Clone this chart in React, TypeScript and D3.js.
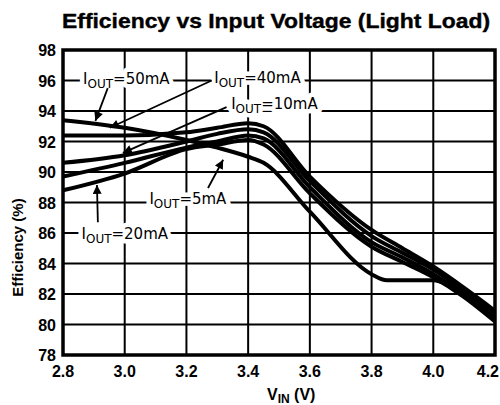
import React from 'react';
import * as d3 from 'd3';

// ---- data ----
const vinShared = [2.8, 3.0, 3.2, 3.3, 3.4, 3.45, 3.6, 3.8, 3.9, 4.0, 4.1, 4.2];
const eff40mA = [92.4, 92.4, 92.6, 92.9, 93.2, 93.0, 89.7, 86.2, 85.0, 83.8, 82.4, 80.9];
const eff10mA = [90.6, 91.1, 92.0, 92.5, 92.8, 92.6, 89.4, 85.8, 84.7, 83.6, 82.2, 80.7];
const eff5mA = [89.7, 90.6, 91.6, 92.0, 92.4, 92.2, 89.0, 85.4, 84.4, 83.3, 82.0, 80.5];
const eff20mA = [88.8, 89.9, 91.5, 91.8, 92.1, 91.8, 88.6, 85.1, 84.1, 83.1, 81.8, 80.2];
const vin50mA = [2.8, 3.0, 3.2, 3.3, 3.4, 3.45, 3.6, 3.8, 3.85, 4.0, 4.05, 4.2];
const eff50mA = [93.4, 92.9, 92.1, 91.6, 91.0, 90.6, 87.4, 83.3, 82.9, 82.9, 82.6, 80.3];

const xTicks = [2.8, 3.0, 3.2, 3.4, 3.6, 3.8, 4.0, 4.2];
const yTicks = [78, 80, 82, 84, 86, 88, 90, 92, 94, 96, 98];

const series = [
  { name: '50mA', x: vin50mA, y: eff50mA },
  { name: '40mA', x: vinShared, y: eff40mA },
  { name: '10mA', x: vinShared, y: eff10mA },
  { name: '5mA', x: vinShared, y: eff5mA },
  { name: '20mA', x: vinShared, y: eff20mA },
];

// annotation labels (data units: volts, %)
const labelNames = ['50mA', '40mA', '10mA', '5mA', '20mA'];
const labelV = [2.865, 3.29, 3.345, 3.08, 2.86];
const labelE = [96.1, 96.15, 94.45, 88.25, 85.95];
// arrows: from -> to
const arrowFromV = [2.945, 3.282, 3.33, 3.27, 2.913];
const arrowFromE = [95.5, 96.0, 94.25, 88.95, 86.7];
const arrowToV = [2.905, 2.952, 2.994, 3.319, 2.91];
const arrowToE = [93.35, 92.9, 91.25, 90.8, 89.15];

const W = 500;
const H = 405;
const left = 63, right = 495, top = 50, bottom = 355;

function Label({ px, py, name, halo }: { px: number; py: number; name: string; halo: boolean }) {
  const common = halo
    ? { stroke: '#fff', strokeWidth: 9, fill: '#fff', strokeLinejoin: 'round' as const }
    : { fill: '#000' };
  return (
    <text x={px} y={py} fontFamily="'DejaVu Sans', sans-serif" fontSize={15} {...common}>
      I<tspan fontSize={12} dy={4}>OUT</tspan><tspan dy={-4}>={name}</tspan>
    </text>
  );
}

export default function App() {
  const x = d3.scaleLinear().domain([2.8, 4.2]).range([left, right]);
  const y = d3.scaleLinear().domain([78, 98]).range([bottom, top]);
  const line = d3
    .line<[number, number]>()
    .x((d) => x(d[0]))
    .y((d) => y(d[1]))
    .curve(d3.curveMonotoneX);

  const tickFont = "'Liberation Sans', Arial, sans-serif";

  return (
    <svg width={W} height={H} style={{ position: 'absolute', left: 0, top: 0, background: '#fff' }}>
      <defs>
        <marker id="ah" viewBox="0 0 10 10" refX="10" refY="5" markerWidth="12" markerHeight="9"
          markerUnits="userSpaceOnUse" orient="auto">
          <path d="M0,0 L10,5 L0,10 Z" fill="#000" />
        </marker>
      </defs>
      <rect x={0} y={0} width={W} height={H} fill="#fff" />
      {/* title */}
      <text x={276} y={28} textAnchor="middle" fontFamily={tickFont} fontWeight="bold" fontSize={21}
        textLength={428} lengthAdjust="spacingAndGlyphs" stroke="#000" strokeWidth={0.4}>
        Efficiency vs Input Voltage (Light Load)
      </text>
      {/* grid */}
      {yTicks.slice(1, -1).map((t) => (
        <line key={'gy' + t} x1={left} x2={right} y1={y(t)} y2={y(t)} stroke="#000" strokeWidth={2} />
      ))}
      {xTicks.slice(1, -1).map((t) => (
        <line key={'gx' + t} y1={top} y2={bottom} x1={x(t)} x2={x(t)} stroke="#000" strokeWidth={2} />
      ))}
      <rect x={left} y={top} width={right - left} height={bottom - top} fill="none" stroke="#000" strokeWidth={3.5} />
      {/* tick labels */}
      {yTicks.map((t) => (
        <text key={'ty' + t} x={56} y={y(t) + 6} textAnchor="end" fontFamily={tickFont} fontWeight="bold" fontSize={16}>
          {t}
        </text>
      ))}
      {xTicks.map((t, i) => {
        const last = i === xTicks.length - 1;
        return (
          <text key={'tx' + t} x={last ? 499 : x(t)} y={377} textAnchor={last ? 'end' : 'middle'}
            fontFamily={tickFont} fontWeight="bold" fontSize={16}>
            {t.toFixed(1)}
          </text>
        );
      })}
      {/* axis titles */}
      <text transform={`translate(23,${(top + bottom) / 2 + 45}) rotate(-90)`} textAnchor="middle"
        fontFamily={tickFont} fontWeight="bold" fontSize={15}>
        Efficiency (%)
      </text>
      <text x={267} y={400} fontFamily={tickFont} fontWeight="bold" fontSize={16}>
        V<tspan fontSize={12} dy={3}>IN</tspan><tspan dy={-3}> (V)</tspan>
      </text>
      {/* curves */}
      {series.map((s) => (
        <path key={s.name} d={line(s.x.map((v, i) => [v, s.y[i]] as [number, number])) || ''}
          fill="none" stroke="#000" strokeWidth={4} strokeLinejoin="round" />
      ))}
      {/* label halos, then labels */}
      {labelNames.map((n, i) => (
        <Label key={'lh' + n} px={x(labelV[i])} py={y(labelE[i]) + 5} name={n} halo={true} />
      ))}
      {labelNames.map((n, i) => (
        <Label key={'lb' + n} px={x(labelV[i])} py={y(labelE[i]) + 5} name={n} halo={false} />
      ))}
      {/* arrows */}
      {arrowFromV.map((v, i) => (
        <line key={'ar' + i} x1={x(v)} y1={y(arrowFromE[i])} x2={x(arrowToV[i])} y2={y(arrowToE[i])}
          stroke="#000" strokeWidth={1.8} markerEnd="url(#ah)" />
      ))}
    </svg>
  );
}
